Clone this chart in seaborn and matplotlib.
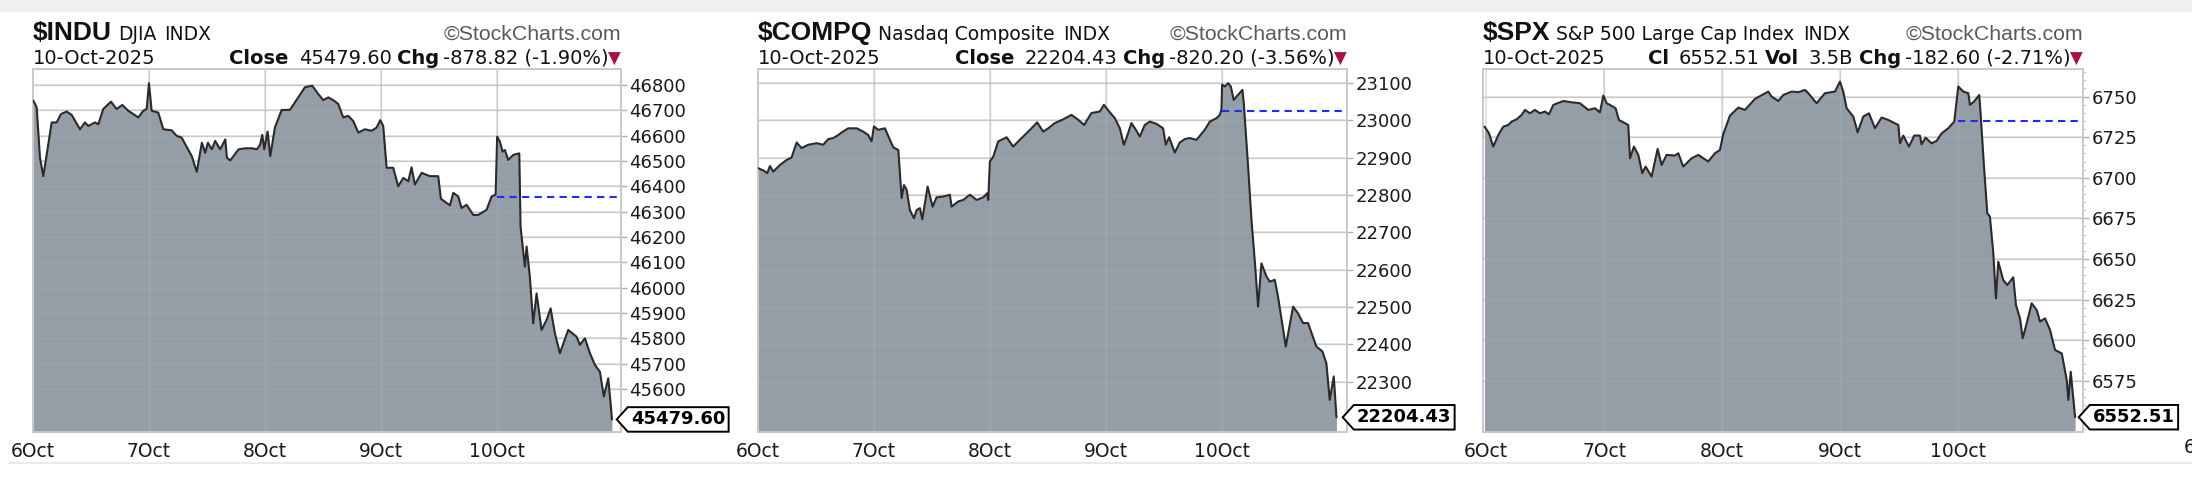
import matplotlib
matplotlib.use("Agg")
import numpy as np
import pandas as pd
import matplotlib.pyplot as plt
import seaborn as sns
from matplotlib.path import Path
from matplotlib.patches import Rectangle
from matplotlib.lines import Line2D

# ---- data (x = trading-day position, 0 = 6 Oct open) ----
DAY_LABELS = ['6Oct', '7Oct', '8Oct', '9Oct', '10Oct']
DATE_TEXT = '10-Oct-2025'

SYMBOLS = ['$INDU', '$COMPQ', '$SPX']
NAMES = ['DJIA', 'Nasdaq Composite', 'S&P 500 Large Cap Index']
CLOSES = [45479.60, 22204.43, 6552.51]
CHANGES = [-878.82, -820.20, -182.60]
PCTS = [-1.90, -3.56, -2.71]
PREV_CLOSES = [46358.42, 23024.63, 6735.11]
SPX_VOL = '3.5B'

INDU_T = [0.003, 0.032, 0.060, 0.089, 0.132, 0.161, 0.204, 0.241, 0.290, 0.333, 0.405, 0.448,
          0.477, 0.534, 0.563, 0.606, 0.672, 0.721, 0.770, 0.822, 0.908, 0.951, 0.980, 1.000,
          1.023, 1.080, 1.124, 1.196, 1.239, 1.282, 1.369, 1.412, 1.456, 1.485, 1.508, 1.542,
          1.571, 1.614, 1.658, 1.672, 1.701, 1.773, 1.830, 1.888, 1.931, 1.957, 1.977, 1.994,
          2.023, 2.046, 2.086, 2.144, 2.216, 2.287, 2.345, 2.408, 2.460, 2.503, 2.546, 2.589,
          2.632, 2.675, 2.718, 2.761, 2.805, 2.862, 2.920, 2.963, 2.994, 3.020, 3.049, 3.106,
          3.149, 3.193, 3.236, 3.264, 3.293, 3.351, 3.422, 3.494, 3.517, 3.566, 3.595, 3.624,
          3.667, 3.695, 3.739, 3.796, 3.839, 3.911, 3.954, 3.989, 4.002, 4.026, 4.049, 4.069,
          4.098, 4.141, 4.193, 4.204, 4.241, 4.256, 4.284, 4.313, 4.342, 4.385, 4.428, 4.463,
          4.500, 4.543, 4.615, 4.687, 4.716, 4.759, 4.802, 4.845, 4.888, 4.922, 4.960, 4.983,
          4.992]
INDU_V = [46738, 46711, 46513, 46440, 46566, 46652, 46652, 46685, 46695, 46682, 46625, 46652,
          46638, 46652, 46645, 46705, 46734, 46705, 46721, 46698, 46672, 46698, 46705, 46807,
          46698, 46691, 46625, 46621, 46599, 46592, 46519, 46457, 46572, 46532, 46572, 46546,
          46579, 46546, 46585, 46513, 46502, 46546, 46550, 46550, 46546, 46563, 46603, 46546,
          46616, 46519, 46632, 46701, 46702, 46751, 46791, 46797, 46764, 46740, 46751, 46740,
          46725, 46672, 46678, 46658, 46612, 46625, 46619, 46632, 46661, 46638, 46473, 46473,
          46400, 46433, 46420, 46475, 46407, 46453, 46440, 46440, 46351, 46334, 46325, 46374,
          46360, 46314, 46327, 46287, 46287, 46307, 46360, 46367, 46596, 46576, 46537, 46543,
          46504, 46524, 46530, 46241, 46083, 46162, 46043, 45859, 45977, 45833, 45872, 45918,
          45820, 45741, 45833, 45806, 45774, 45800, 45741, 45695, 45668, 45570, 45642, 45530,
          45479.60]

COMPQ_T = [0.003, 0.046, 0.080, 0.103, 0.132, 0.190, 0.247, 0.290, 0.333, 0.376, 0.434, 0.506,
           0.563, 0.606, 0.649, 0.693, 0.721, 0.779, 0.851, 0.908, 0.951, 0.980, 1.000, 1.037,
           1.095, 1.138, 1.167, 1.210, 1.239, 1.259, 1.282, 1.310, 1.345, 1.368, 1.397, 1.417,
           1.463, 1.506, 1.540, 1.598, 1.655, 1.670, 1.727, 1.770, 1.828, 1.885, 1.943, 1.977,
           1.986, 2.000, 2.029, 2.072, 2.144, 2.201, 2.244, 2.287, 2.359, 2.408, 2.460, 2.503,
           2.560, 2.632, 2.704, 2.761, 2.813, 2.876, 2.948, 2.983, 3.029, 3.078, 3.121, 3.155,
           3.178, 3.221, 3.259, 3.293, 3.336, 3.379, 3.437, 3.494, 3.517, 3.546, 3.595, 3.638,
           3.681, 3.724, 3.782, 3.853, 3.897, 3.954, 3.983, 3.997, 4.003, 4.026, 4.055, 4.078,
           4.103, 4.141, 4.178, 4.190, 4.227, 4.256, 4.284, 4.313, 4.342, 4.385, 4.414, 4.457,
           4.485, 4.552, 4.615, 4.658, 4.701, 4.744, 4.816, 4.868, 4.902, 4.931, 4.966, 4.989]
COMPQ_V = [22872, 22866, 22859, 22878, 22863, 22881, 22894, 22901, 22941, 22926, 22935, 22939,
           22935, 22950, 22953, 22961, 22968, 22979, 22979, 22970, 22961, 22944, 22984, 22975,
           22979, 22948, 22928, 22921, 22792, 22827, 22814, 22760, 22738, 22760, 22765, 22735,
           22823, 22769, 22794, 22796, 22801, 22769, 22783, 22787, 22801, 22787, 22794, 22805,
           22787, 22890, 22903, 22944, 22955, 22930, 22944, 22957, 22979, 22995, 22970, 22979,
           22993, 23003, 23015, 23002, 22988, 23020, 23024, 23042, 23024, 23006, 22979, 22935,
           22953, 22993, 22975, 22957, 22988, 22997, 22991, 22979, 22935, 22955, 22914, 22941,
           22950, 22953, 22948, 22975, 22997, 23006, 23015, 23029, 23096, 23091, 23100, 23091,
           23055, 23069, 23082, 23046, 22877, 22734, 22626, 22501, 22617, 22582, 22568, 22573,
           22528, 22394, 22501, 22483, 22457, 22457, 22394, 22381, 22349, 22251, 22314, 22204.43]

SPX_T = [-0.015, 0.023, 0.059, 0.102, 0.144, 0.186, 0.215, 0.257, 0.299, 0.328, 0.370, 0.412,
         0.455, 0.497, 0.531, 0.568, 0.653, 0.723, 0.794, 0.864, 0.921, 0.963, 0.992, 1.020,
         1.048, 1.096, 1.124, 1.161, 1.203, 1.218, 1.251, 1.288, 1.322, 1.350, 1.401, 1.452,
         1.486, 1.528, 1.599, 1.627, 1.669, 1.740, 1.797, 1.881, 1.938, 1.980, 2.008, 2.065,
         2.136, 2.192, 2.277, 2.390, 2.418, 2.475, 2.517, 2.588, 2.644, 2.701, 2.729, 2.799,
         2.870, 2.955, 2.997, 3.025, 3.054, 3.110, 3.147, 3.195, 3.243, 3.294, 3.350, 3.407,
         3.492, 3.506, 3.534, 3.582, 3.627, 3.675, 3.689, 3.723, 3.774, 3.816, 3.859, 3.915,
         3.966, 4.000, 4.043, 4.085, 4.099, 4.133, 4.178, 4.189, 4.218, 4.246, 4.268, 4.297,
         4.319, 4.339, 4.381, 4.415, 4.466, 4.489, 4.523, 4.546, 4.580, 4.622, 4.665, 4.693,
         4.735, 4.778, 4.820, 4.877, 4.919, 4.933, 4.953, 4.990]
SPX_V = [6731.5, 6727.4, 6719.2, 6726.4, 6731.5, 6732.5, 6734.6, 6736.0, 6738.7, 6741.8, 6739.7,
         6741.8, 6739.7, 6740.8, 6739.1, 6744.9, 6747.3, 6746.5, 6745.9, 6741.8, 6742.8, 6740.3,
         6750.6, 6745.9, 6744.9, 6742.8, 6735.6, 6734.2, 6732.5, 6712.0, 6719.2, 6714.1, 6702.8,
         6706.9, 6700.7, 6717.8, 6707.9, 6714.1, 6713.7, 6715.1, 6706.9, 6712.0, 6714.1, 6710.0,
         6715.1, 6717.1, 6726.8, 6738.3, 6743.2, 6741.8, 6748.6, 6753.1, 6750.0, 6747.3, 6751.0,
         6753.1, 6752.7, 6754.1, 6752.1, 6745.9, 6752.1, 6753.1, 6759.2, 6753.1, 6742.8, 6737.7,
         6728.0, 6737.7, 6739.7, 6730.5, 6737.1, 6735.6, 6732.5, 6721.2, 6726.0, 6719.2, 6726.0,
         6726.0, 6720.6, 6724.7, 6721.2, 6722.7, 6727.4, 6730.5, 6734.6, 6756.2, 6753.1, 6752.1,
         6744.9, 6746.9, 6751.0, 6739.7, 6706.9, 6678.1, 6676.1, 6653.5, 6625.7, 6648.3, 6637.0,
         6633.9, 6638.7, 6621.6, 6613.4, 6601.1, 6610.3, 6622.7, 6618.5, 6611.4, 6613.4, 6606.2,
         6593.9, 6591.8, 6575.4, 6563.1, 6580.5, 6552.51]

INDU_TICKS = [45600, 45700, 45800, 45900, 46000, 46100, 46200, 46300, 46400, 46500, 46600, 46700, 46800]
COMPQ_TICKS = [22300, 22400, 22500, 22600, 22700, 22800, 22900, 23000, 23100]
SPX_TICKS = [6575, 6600, 6625, 6650, 6675, 6700, 6725, 6750]

# ---- styling ----
W, H = 2192, 488
FILL = '#959ea7'
LINE = '#2a2a2a'
GRID = '#dedede'
BOX = '#c9c9c9'
DOWN_RED = '#a3133c'
INK = '#111111'
WIDE = 'DejaVu Sans'

sns.set_style('white')
plt.rcParams['font.family'] = ['Liberation Sans', 'DejaVu Sans']

fig = plt.figure(figsize=(W / 100, H / 100), dpi=100)
fig.patch.set_facecolor('white')
renderer = fig.canvas.get_renderer()

# top browser band + bottom separator
fig.patches.append(Rectangle((0, 1 - 11 / H), 1, 11 / H, transform=fig.transFigure,
                             color='#efefef', zorder=0))
fig.add_artist(Line2D([9 / W, 1], [1 - 463 / H] * 2, color='#e6e6e6', lw=1.2))


def tag_box(x0, y0, width, height, mutation_size):
    p = 0.18 * mutation_size
    x0, y0 = x0 - p, y0 - p
    x1, y1 = x0 + width + 2 * p, y0 + height + 2 * p
    tip = x0 - 0.45 * (y1 - y0)
    return Path([(x0, y0), (x1, y0), (x1, y1), (x0, y1), (tip, (y0 + y1) / 2), (x0, y0)],
                closed=True)


def chain(x_px, y_px, parts, right=False):
    # parts: (text, weight, size, color, family, gap_px)
    x = x_px
    seq = parts[::-1] if right else parts
    for s, weight, size, color, fam, gap in seq:
        t = fig.text(x / W, 1 - y_px / H, s, fontsize=size, fontweight=weight, color=color,
                     family=fam, ha='right' if right else 'left', va='baseline')
        bb = t.get_window_extent(renderer)
        x = bb.x0 - gap if right else bb.x1 + gap


panels = [
    dict(t=INDU_T, v=INDU_V, ticks=INDU_TICKS, left=33, width=588, xlim=(0, 5.07),
         ylim=(45430, 46863), minor=None),
    dict(t=COMPQ_T, v=COMPQ_V, ticks=COMPQ_TICKS, left=758, width=589, xlim=(0, 5.08),
         ylim=(22165, 23138), minor=None),
    dict(t=SPX_T, v=SPX_V, ticks=SPX_TICKS, left=1483, width=600, xlim=(-0.028, 5.057),
         ylim=(6543.4, 6767), minor=5),
]
top_px, bot_px = 69, 432

for i, p in enumerate(panels):
    ax = fig.add_axes([p['left'] / W, 1 - bot_px / H, p['width'] / W, (bot_px - top_px) / H])
    df = pd.DataFrame({'t': p['t'], 'price': p['v']})
    y0 = p['ylim'][0]

    ax.fill_between(df['t'], df['price'], y0, color=FILL, lw=0, zorder=1)
    sns.lineplot(data=df, x='t', y='price', ax=ax, color=LINE, lw=1.5,
                 estimator=None, sort=False, zorder=3)

    # previous close
    ax.hlines(PREV_CLOSES[i], 4, p['xlim'][1], colors='#1f2cff', lw=1.5,
              linestyles=(0, (3.5, 2.5)), zorder=4)

    ax.set_xlim(*p['xlim'])
    ax.set_ylim(*p['ylim'])
    ax.set_xticks(range(len(DAY_LABELS)))
    ax.set_xticklabels(DAY_LABELS)
    ax.set_yticks(p['ticks'])
    ax.set_yticklabels([str(v) for v in p['ticks']])
    ax.yaxis.tick_right()
    ax.set_xlabel('')
    ax.set_ylabel('')
    ax.grid(True, color=GRID, lw=1.1, zorder=0)
    ax.set_axisbelow(True)
    # faint grid showing through the fill
    for xv in range(1, len(DAY_LABELS)):
        ax.axvline(xv, color='#aab3bb', lw=1, alpha=0.45, zorder=2)
    for yv in p['ticks']:
        ax.axhline(yv, color='#a3acb4', lw=1, alpha=0.45, zorder=2)

    for s in ax.spines.values():
        s.set_color(BOX)
        s.set_linewidth(1.4)
    ax.tick_params(axis='x', length=0, pad=7, labelsize=13.5, labelcolor='#1a1a1a')
    ax.tick_params(axis='y', right=True, length=4, width=1, color='#b0b0b0', pad=2,
                   labelsize=13, labelcolor='#1a1a1a')
    for lab in ax.get_xticklabels() + ax.get_yticklabels():
        lab.set_family(WIDE)
    if p['minor']:
        ax.set_yticks(np.arange(6545, 6767, p['minor']), minor=True)
        ax.tick_params(axis='y', which='minor', right=True, length=2, color='#c0c0c0')

    # last value tag
    ax.annotate(f'{CLOSES[i]:.2f}', xy=(1, CLOSES[i]), xycoords=('axes fraction', 'data'),
                xytext=(10, 0), textcoords='offset pixels', ha='left', va='center',
                fontsize=13, fontweight='bold', color='black', family=WIDE,
                annotation_clip=False,
                bbox=dict(boxstyle=tag_box, fc='white', ec='black', lw=1.4))

    # header rows
    lx = p['left']
    rx = p['left'] + p['width']
    chain(lx, 40, [(SYMBOLS[i], 'bold', 19, INK, 'Liberation Sans', 6),
                   (NAMES[i], 'normal', 13.5, INK, WIDE, 8),
                   ('INDX', 'normal', 13.5, INK, WIDE, 0)])
    fig.text(rx / W, 1 - 40 / H, '\u00a9StockCharts.com', fontsize=15.3, color='#5a5a5a',
             ha='right', va='baseline')
    fig.text(lx / W, 1 - 64 / H, DATE_TEXT, fontsize=14, color=INK, family=WIDE,
             va='baseline')
    chg = f'{CHANGES[i]:.2f} ({PCTS[i]:.2f}%)'
    if i == 2:
        row = [('Cl', 'bold', 14, INK, WIDE, 5), (f'{CLOSES[i]:.2f}', 'normal', 14, INK, WIDE, 10),
               ('Vol', 'bold', 14, INK, WIDE, 5), (SPX_VOL, 'normal', 14, INK, WIDE, 10),
               ('Chg', 'bold', 14, INK, WIDE, 5), (chg, 'normal', 14, INK, WIDE, 4),
               ('\u25bc', 'normal', 12, DOWN_RED, WIDE, 0)]
    else:
        row = [('Close', 'bold', 14, INK, WIDE, 5), (f'{CLOSES[i]:.2f}', 'normal', 14, INK, WIDE, 10),
               ('Chg', 'bold', 14, INK, WIDE, 5), (chg, 'normal', 14, INK, WIDE, 4),
               ('\u25bc', 'normal', 12, DOWN_RED, WIDE, 0)]
    chain(rx, 64, row, right=True)

# start of the next (cut off) panel's axis label
fig.text(2184 / W, 1 - 453 / H, DAY_LABELS[0], fontsize=13.5, color='#1a1a1a',
         family=WIDE, ha='left', va='baseline')

fig.savefig('out.png', dpi=100, facecolor='white')
